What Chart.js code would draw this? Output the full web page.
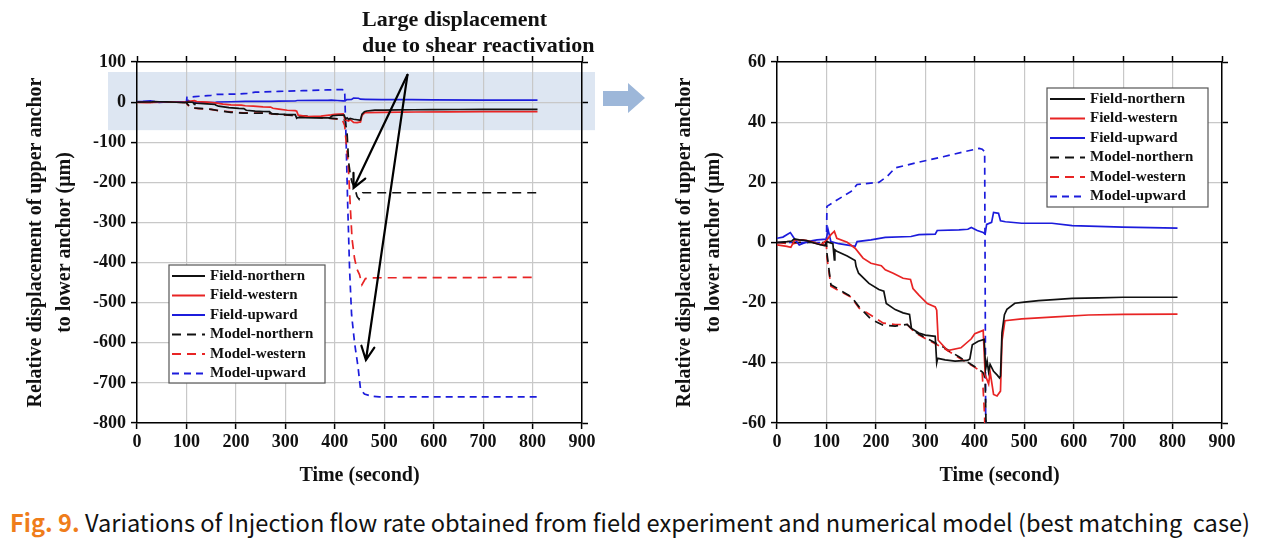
<!DOCTYPE html>
<html>
<head>
<meta charset="utf-8">
<script src="https://cdn.jsdelivr.net/npm/chart.js@4.4.0/dist/chart.umd.min.js"></script>
<style>
  body { margin: 0; background: #fff; width: 1268px; height: 544px; overflow: hidden; position: relative; }
  #left { position: absolute; left: 0; top: 0; }
  #right { position: absolute; left: 650px; top: 0; }
  #caption { position: absolute; left: 10px; top: 508px; white-space: pre; font-family: 'Noto Sans CJK KR', 'Noto Sans', sans-serif;
             font-size: 24px; line-height: 28px; color: #111; transform-origin: 0 0; }
  #caption .fig { color: #ef7d1a; font-weight: bold; }
</style>
</head>
<body>
<canvas id="left" width="650" height="500"></canvas>
<canvas id="right" width="618" height="500"></canvas>
<div id="caption"><span class="fig">Fig. 9.</span> Variations of Injection flow rate obtained from field experiment and numerical model (best matching  case)</div>
<script>
// axis ranges
const timeMin = 0, timeMax = 900, timeStep = 100;
const leftMin = -800, leftMax = 100, leftStep = 100;
const rightMin = -60, rightMax = 60, rightStep = 20;

const xTitle = 'Time (second)';
const yTitle = ['Relative displacement of upper anchor', 'to lower anchor (\u03bcm)'];
const noteLines = ['Large displacement', 'due to shear reactivation'];

// series (time in s, displacement in um)
const fieldNorthernTime = [0, 20, 30, 35, 45, 60, 80, 97, 101, 113, 116, 117, 120, 142, 158, 160, 165, 186, 206, 216, 221, 239, 255, 268, 272, 287, 300, 320, 323, 325, 340, 360, 385, 390, 395, 407, 419, 422, 425, 428, 431, 438, 445, 450, 452, 455, 460, 465, 481, 500, 529, 560, 597, 650, 700, 760, 810];
const fieldNorthernValue = [0, 0.3, 0.5, 1.2, 0.9, 0.6, -0.4, -1.1, 0.3, -0.4, -5.8, -2.4, -2.8, -4.5, -6, -8, -10.2, -13.6, -15.6, -16.2, -20.3, -22.3, -23.4, -23.9, -28.6, -30.1, -30.8, -31.2, -40, -38.5, -39, -39.4, -39.2, -38.7, -34, -32.8, -32.2, -42, -39.4, -43, -40.5, -42.8, -44, -45, -44.4, -30, -24, -22.2, -20.2, -19.8, -19.3, -19, -18.6, -18.4, -18.2, -18.2, -18.2];

const fieldWesternTime = [0, 20, 28, 36, 53, 69, 89, 101, 109, 116, 121, 142, 158, 174, 190, 211, 219, 235, 255, 270, 275, 287, 304, 320, 323, 326, 345, 372, 393, 400, 417, 421, 428, 431, 438, 445, 452, 455, 461, 495, 563, 630, 700, 810];
const fieldWesternValue = [-0.8, -1.3, -1.6, 0.9, 0.9, 0.3, -0.8, 0.9, 2.6, 3.7, 1.4, 0.1, -1.9, -5.2, -6.9, -7.7, -9.1, -10.2, -11.9, -12.3, -15.3, -17.5, -20.3, -21.4, -22.5, -32.5, -35.9, -35, -32, -30.3, -29.2, -44, -47, -43, -50.5, -51, -49.4, -32.8, -26, -25.4, -24.7, -24.1, -23.9, -23.8];

const fieldUpwardTime = [0, 12, 27, 36, 45, 61, 81, 100, 103, 109, 125, 158, 162, 190, 219, 271, 287, 320, 324, 368, 386, 393, 405, 417, 421, 424, 434, 438, 448, 452, 462, 495, 556, 597, 699, 810];
const fieldUpwardValue = [1.4, 1.8, 3.3, 1.1, -0.8, 0.3, 0.9, 1.1, 4.5, 0.3, -0.4, -1.3, 0.3, 0.9, 1.7, 2.0, 2.6, 2.8, 4.0, 4.2, 4.4, 5.0, 4.0, 3.3, 2.8, 6.0, 6.7, 10, 9.7, 7.2, 6.9, 6.4, 6.4, 5.6, 5.1, 4.8];

const modelNorthernTime = [0, 100, 101, 109, 125, 150, 166, 190, 215, 239, 263, 279, 304, 336, 368, 401, 415, 418, 421, 425, 428, 432, 435, 440, 445, 449, 452, 456, 470, 810];
const modelNorthernValue = [0, 0, -3.6, -14, -15.6, -18, -21.4, -25.5, -27.5, -27.8, -27.2, -29.7, -32, -34.7, -38, -41.4, -43, -43.5, -45.5, -80, -150, -185, -200, -212, -235, -242, -230, -226, -226, -226];

const modelWesternTime = [0, 30, 60, 90, 100, 101, 109, 125, 150, 166, 190, 215, 239, 263, 279, 304, 336, 368, 401, 415, 420, 423, 427, 432, 435, 440, 445, 450, 455, 462, 470, 800];
const modelWesternValue = [0, -0.5, 0.5, -0.5, -1, -5, -14.5, -16, -18.2, -21.8, -24.2, -26.8, -27.3, -27.2, -30, -32.3, -35, -38.3, -41.6, -43.2, -58, -100, -150, -275, -342, -390, -417, -430, -455, -440, -438, -437];

const modelUpwardTime = [0, 100, 101, 117, 150, 162, 206, 223, 239, 287, 336, 385, 409, 415, 420, 423, 426, 430, 434, 440, 447, 452, 460, 475, 490, 810];
const modelUpwardValue = [0, 0, 12, 13.7, 17, 19.3, 20, 22, 24.8, 26.7, 28.5, 30.4, 31.3, 31, 30.2, -100, -250, -420, -530, -600, -660, -715, -728, -733, -735, -735];

const seriesLabels = ['Field-northern', 'Field-western', 'Field-upward', 'Model-northern', 'Model-western', 'Model-upward'];
const seriesColors = ['#111111', '#e82424', '#1c1cdc', '#111111', '#e82424', '#1c1cdc'];

const BLACK_DASH = [9, 6];
const BLUE_DASH = [7, 5];
const seriesDash = [[], [], [], BLACK_DASH, BLACK_DASH, BLUE_DASH];

const seriesTimes = [fieldNorthernTime, fieldWesternTime, fieldUpwardTime, modelNorthernTime, modelWesternTime, modelUpwardTime];
const seriesValues = [fieldNorthernValue, fieldWesternValue, fieldUpwardValue, modelNorthernValue, modelWesternValue, modelUpwardValue];

const serif = 'Liberation Serif';

function buildDatasets() {
    return seriesLabels.map((label, i) => ({
        label: label,
        data: seriesTimes[i].map((t, j) => ({ x: t, y: seriesValues[i][j] })),
        borderColor: seriesColors[i],
        borderWidth: 1.7,
        borderDash: seriesDash[i],
        pointRadius: 0,
        tension: 0,
        fill: false
    }));
}

// force the scale boxes so both plot areas land where the figure has them
const sizeTo = px => scale => {
    if (scale.isHorizontal()) scale.height = px; else scale.width = px;
};

function makeScales(yMin, yMax, yStep, sizes) {
    const tickFont = { family: serif, size: 18, weight: 'bold' };
    const border = { color: '#000', width: 1.5 };
    return {
        x: {
            type: 'linear', position: 'bottom', min: timeMin, max: timeMax,
            ticks: { stepSize: timeStep, font: tickFont, color: '#111', padding: 3, maxRotation: 0, callback: v => String(v) },
            grid: { color: '#c8c8c8', lineWidth: 1.2, tickLength: 6, tickColor: '#000', tickWidth: 1.5 },
            border: border,
            title: { display: true, text: xTitle, color: '#111', font: { family: serif, size: 20, weight: 'bold', lineHeight: 1.2 }, padding: { top: 0, bottom: 12 } },
            afterFit: sizeTo(sizes.bottom)
        },
        x2: {
            type: 'linear', position: 'top', min: timeMin, max: timeMax,
            ticks: { stepSize: timeStep, display: false },
            grid: { drawOnChartArea: false, tickLength: 6, tickColor: '#000', tickWidth: 1.5 },
            border: border,
            afterFit: sizeTo(sizes.top)
        },
        y: {
            type: 'linear', position: 'left', min: yMin, max: yMax,
            ticks: { stepSize: yStep, font: tickFont, color: '#111', padding: 5, callback: v => String(v) },
            grid: { color: '#c8c8c8', lineWidth: 1.2, tickLength: 6, tickColor: '#000', tickWidth: 1.5 },
            border: border,
            title: { display: true, text: yTitle, color: '#111', font: { family: serif, size: 20, weight: 'bold', lineHeight: 1.45 }, padding: { top: sizes.titlePad, bottom: 0 } },
            afterFit: sizeTo(sizes.left)
        },
        y2: {
            type: 'linear', position: 'right', min: yMin, max: yMax,
            ticks: { stepSize: yStep, display: false },
            grid: { drawOnChartArea: false, tickLength: 6, tickColor: '#000', tickWidth: 1.5 },
            border: border,
            afterFit: sizeTo(sizes.right)
        }
    };
}

// boxed legend drawn inside the plot
const boxLegend = {
    id: 'boxLegend',
    afterDraw(chart, args, opts) {
        const ctx = chart.ctx;
        ctx.save();
        ctx.fillStyle = '#fff';
        ctx.fillRect(opts.x, opts.y, opts.w, opts.h);
        ctx.strokeStyle = '#555';
        ctx.lineWidth = 1.2;
        ctx.strokeRect(opts.x, opts.y, opts.w, opts.h);
        ctx.font = 'bold 15px "' + serif + '"';
        ctx.textBaseline = 'middle';
        chart.data.datasets.forEach((ds, i) => {
            const y = opts.y + opts.row0 + i * opts.rowStep;
            ctx.strokeStyle = ds.borderColor;
            ctx.lineWidth = 2;
            ctx.setLineDash(ds.borderDash);
            ctx.beginPath();
            ctx.moveTo(opts.x + 3, y);
            ctx.lineTo(opts.x + opts.lineEnd, y);
            ctx.stroke();
            ctx.setLineDash([]);
            ctx.fillStyle = '#111';
            ctx.fillText(ds.label, opts.x + opts.textX, y);
        });
        ctx.restore();
    }
};

// shaded band, note text and arrows of the left panel
const leftDecor = {
    id: 'leftDecor',
    beforeDraw(chart) {
        const { ctx, chartArea, scales } = chart;
        const top = scales.y.getPixelForValue(75);
        const bottom = scales.y.getPixelForValue(-70);
        ctx.save();
        ctx.fillStyle = '#dde6f2';
        ctx.fillRect(chartArea.left - 29, top, chartArea.right - chartArea.left + 42, bottom - top);
        ctx.restore();
    },
    afterDraw(chart) {
        const { ctx, scales } = chart;
        ctx.save();
        // block arrow pointing to the right panel
        ctx.fillStyle = '#9db7d9';
        ctx.beginPath();
        ctx.moveTo(603, 91); ctx.lineTo(628, 91); ctx.lineTo(628, 83); ctx.lineTo(645, 98);
        ctx.lineTo(628, 113); ctx.lineTo(628, 106); ctx.lineTo(603, 106);
        ctx.closePath();
        ctx.fill();
        // note
        ctx.fillStyle = '#111';
        ctx.font = 'bold 22px "' + serif + '"';
        ctx.textBaseline = 'middle';
        ctx.fillText(noteLines[0], 362, 20);
        ctx.fillText(noteLines[1], 362, 46);
        // arrows from the note to the model jumps
        const from = [547, 68];
        const tips = [[438, -214], [463, -643]];
        ctx.strokeStyle = '#000';
        ctx.lineWidth = 2.2;
        ctx.lineCap = 'round';
        const x0 = scales.x.getPixelForValue(from[0]), y0 = scales.y.getPixelForValue(from[1]);
        tips.forEach(([t, v]) => {
            const x1 = scales.x.getPixelForValue(t), y1 = scales.y.getPixelForValue(v);
            const ang = Math.atan2(y1 - y0, x1 - x0);
            ctx.beginPath();
            ctx.moveTo(x0, y0);
            ctx.lineTo(x1, y1);
            ctx.moveTo(x1 - 15 * Math.cos(ang - 0.45), y1 - 15 * Math.sin(ang - 0.45));
            ctx.lineTo(x1, y1);
            ctx.lineTo(x1 - 15 * Math.cos(ang + 0.45), y1 - 15 * Math.sin(ang + 0.45));
            ctx.stroke();
        });
        ctx.restore();
    }
};

function makeChart(id, yMin, yMax, yStep, sizes, legendBox, extra) {
    return new Chart(document.getElementById(id).getContext('2d'), {
        type: 'line',
        data: { datasets: buildDatasets() },
        options: {
            responsive: false,
            animation: false,
            events: [],
            layout: { padding: 0 },
            scales: makeScales(yMin, yMax, yStep, sizes),
            plugins: {
                legend: { display: false },
                tooltip: { enabled: false },
                boxLegend: legendBox
            }
        },
        plugins: [boxLegend].concat(extra)
    });
}

document.fonts.load('bold 18px "Liberation Serif"').then(() => {
    makeChart('left', leftMin, leftMax, leftStep,
        { left: 137, right: 68, top: 62, bottom: 77, titlePad: 21 },
        { x: 169, y: 265, w: 156, h: 118, row0: 11, rowStep: 19.5, lineEnd: 36, textX: 41 },
        [leftDecor]);

    makeChart('right', rightMin, rightMax, rightStep,
        { left: 127, right: 46, top: 62, bottom: 77, titlePad: 20 },
        { x: 397, y: 88, w: 161, h: 119, row0: 11, rowStep: 19.5, lineEnd: 38, textX: 43 },
        []);

    // stretch the caption to the width it has in the figure
    const cap = document.getElementById('caption');
    const w = cap.getBoundingClientRect().width;
    cap.style.transform = 'scaleX(' + (1240 / w) + ')';
});
</script>
</body>
</html>
